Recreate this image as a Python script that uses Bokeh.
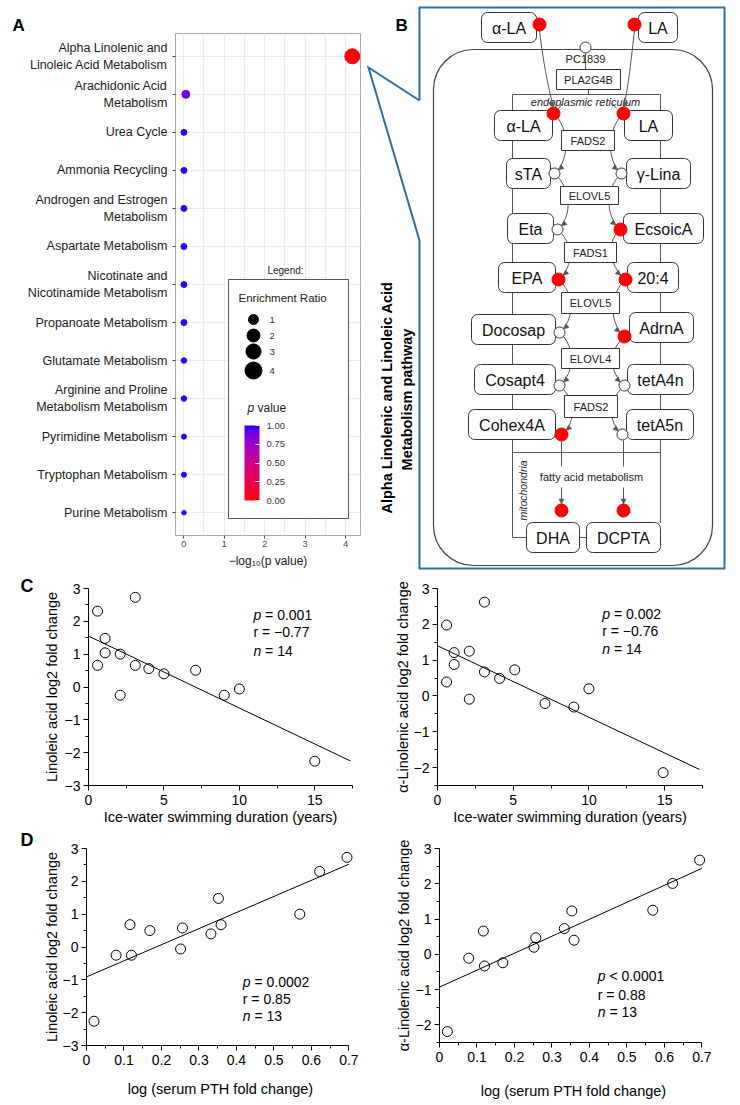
import numpy as np
from bokeh.plotting import figure
from bokeh.models import (Range1d, FactorRange, FixedTicker, Label, ColorBar, Title, Arrow,
                          NormalHead, LinearColorMapper, PrintfTickFormatter, ColumnDataSource)
from bokeh.layouts import column, row
from bokeh.core.properties import value
from bokeh.embed import file_html
from bokeh.resources import INLINE

FONT = "Liberation Sans"

# ------------------------------------------------------------------ data
pathways = [
    "Alpha Linolenic and\nLinoleic Acid Metabolism",
    "Arachidonic Acid\nMetabolism",
    "Urea Cycle",
    "Ammonia Recycling",
    "Androgen and Estrogen\nMetabolism",
    "Aspartate Metabolism",
    "Nicotinate and\nNicotinamide Metabolism",
    "Propanoate Metabolism",
    "Glutamate Metabolism",
    "Arginine and Proline\nMetabolism Metabolism",
    "Pyrimidine Metabolism",
    "Tryptophan Metabolism",
    "Purine Metabolism",
]
pathway_p = [6.8e-5, 0.88, 0.98, 0.98, 0.98, 0.98, 0.98, 0.98, 0.98, 0.98, 0.98, 0.98, 0.98]
enrichment_ratio = [2.94, 0.5, 0.18, 0.18, 0.18, 0.18, 0.18, 0.18, 0.13, 0.13, 0.09, 0.09, 0.05]
legend_ratios = [1, 2, 3, 4]
pvalue_ticks = [0, 0.25, 0.5, 0.75, 1.0]

duration_c1 = [0.6, 0.6, 1.1, 1.1, 2.1, 2.1, 3.1, 3.1, 4.0, 5.0, 7.1, 9.0, 10.0, 15.0]
la_c1 = [2.31, 0.66, 1.48, 1.04, 1.0, -0.25, 2.73, 0.66, 0.56, 0.40, 0.51, -0.25, -0.06, -2.26]
fit_c1 = (1.55, -0.219, 17.35)

duration_c2 = [0.6, 0.6, 1.1, 1.1, 2.1, 2.1, 3.1, 3.1, 4.1, 5.1, 7.1, 9.0, 10.0, 14.9]
ala_c2 = [1.98, 0.39, 1.21, 0.88, 1.25, -0.09, 2.62, 0.67, 0.49, 0.73, -0.21, -0.31, 0.20, -2.14]
fit_c2 = (1.40, -0.1995, 17.3)

pth_d1 = [0.020, 0.079, 0.116, 0.120, 0.169, 0.251, 0.256, 0.332, 0.352, 0.359, 0.569, 0.622, 0.695]
la_d1 = [-2.26, -0.25, 0.68, -0.25, 0.50, -0.06, 0.58, 0.40, 1.48, 0.68, 1.00, 2.30, 2.73]
fit_d1 = (-0.91, 4.90, 0.70)

pth_d2 = [0.021, 0.078, 0.117, 0.120, 0.169, 0.252, 0.257, 0.333, 0.353, 0.359, 0.569, 0.622, 0.694]
ala_d2 = [-2.19, -0.11, 0.66, -0.33, -0.24, 0.20, 0.47, 0.73, 1.23, 0.40, 1.25, 2.01, 2.67]
fit_d2 = (-0.93, 4.81, 0.70)

stats_c1 = ["0.001", "\u22120.77", "14"]
stats_c2 = ["0.002", "\u22120.76", "14"]
stats_d1 = ["0.0002", "0.85", "13"]
stats_d2 = ["0.0001", "0.88", "13"]

# ------------------------------------------------------------------ colour scale (Lab interpolation red -> blue)
_M = np.array([[0.4124, 0.3576, 0.1805], [0.2126, 0.7152, 0.0722], [0.0193, 0.1192, 0.9505]])
_W = _M @ np.ones(3)


def _to_lab(rgb):
    c = np.array(rgb, float) / 255
    lin = np.where(c <= 0.04045, c / 12.92, ((c + 0.055) / 1.055) ** 2.4)
    t = (_M @ lin) / _W
    f = np.where(t > (6 / 29) ** 3, np.cbrt(t), t / (3 * (6 / 29) ** 2) + 4 / 29)
    return np.array([116 * f[1] - 16, 500 * (f[0] - f[1]), 200 * (f[1] - f[2])])


def _from_lab(lab):
    L, a, b = lab
    fy = (L + 16) / 116
    fx, fz = fy + a / 500, fy - b / 200
    fi = lambda t: t ** 3 if t > 6 / 29 else 3 * (6 / 29) ** 2 * (t - 4 / 29)
    xyz = np.array([fi(fx), fi(fy), fi(fz)]) * _W
    lin = np.clip(np.linalg.solve(_M, xyz), 0, 1)
    c = np.where(lin <= 0.0031308, 12.92 * lin, 1.055 * lin ** (1 / 2.4) - 0.055)
    return "#%02x%02x%02x" % tuple(int(round(v * 255)) for v in np.clip(c, 0, 1))


_l0, _l1 = _to_lab((255, 0, 0)), _to_lab((0, 0, 255))
palette = [_from_lab(_l0 + (_l1 - _l0) * t) for t in np.linspace(0, 1, 256)]
mapper = LinearColorMapper(palette=palette, low=0, high=1)


def alabel(p, x, y, text, size, style="normal", align="left", color="#1a1a1a",
           xoff=0, yoff=0, baseline="middle"):
    p.add_layout(Label(x=x, y=y, text=text, text_font=FONT, text_font_size=size,
                       text_font_style=style, text_align=align, text_baseline=baseline,
                       text_color=color, x_offset=xoff, y_offset=yoff))


def letter_title(p, text, offset, standoff, size="18px"):
    p.add_layout(Title(text=text, align="left", offset=offset, standoff=standoff,
                       text_font=FONT, text_font_size=size, text_font_style="bold",
                       text_color="black"), "above")


# ------------------------------------------------------------------ panel A
A_FL, A_FR, A_FT, A_FB = 175, 360, 33, 535          # frame edges (page px)
A_X0, A_X1 = -0.2, 4.37
A_Y0, A_Y1 = -0.1, 13.1


def ax(px):
    return A_X0 + (px - A_FL) / (A_FR - A_FL) * (A_X1 - A_X0)


def ay(py):
    return A_Y1 - (py - A_FT) / (A_FB - A_FT) * (A_Y1 - A_Y0)


pA = figure(width=362, height=572, x_range=Range1d(A_X0, A_X1),
            y_range=FactorRange(factors=pathways[::-1], range_padding=0.1,
                                range_padding_units="absolute"),
            output_backend="svg", toolbar_location=None,
            min_border_left=175, min_border_right=2, min_border_top=33, min_border_bottom=37)
pA.outline_line_color = "#a8a8a8"
pA.xaxis.ticker = FixedTicker(ticks=[0, 1, 2, 3, 4], minor_ticks=[0.5, 1.5, 2.5, 3.5])
pA.xgrid.grid_line_color = "#ebebeb"
pA.xgrid.minor_grid_line_color = "#ebebeb"
pA.ygrid.grid_line_color = "#ebebeb"
for a in (pA.xaxis[0], pA.yaxis[0]):
    a.axis_line_color = None
    a.major_tick_out = 3
    a.major_tick_in = 0
    a.minor_tick_out = 0
    a.minor_tick_in = 0
    a.major_tick_line_color = "#444444"
    a.major_label_text_font = FONT
pA.xaxis.major_label_text_font_size = "9.5px"
pA.xaxis.major_label_text_color = "#4d4d4d"
pA.xaxis.major_label_standoff = 2
pA.xaxis.axis_label = "\u2212log\u2081\u2080(p value)"
pA.xaxis.axis_label_text_font = FONT
pA.xaxis.axis_label_text_font_size = "12px"
pA.xaxis.axis_label_text_font_style = "normal"
pA.xaxis.axis_label_text_color = "#1a1a1a"
pA.xaxis.axis_label_standoff = 4
pA.yaxis.major_label_text_font_size = "12.5px"
pA.yaxis.major_label_text_color = "#1a1a1a"
pA.yaxis.major_label_standoff = 5

srcA = ColumnDataSource(dict(
    pathway=pathways,
    neglogp=[-np.log10(v) for v in pathway_p],
    p=pathway_p,
    size=[3 + 7 * np.sqrt(r) for r in enrichment_ratio],
))
pA.scatter("neglogp", "pathway", size="size", source=srcA,
           fill_color={"field": "p", "transform": mapper},
           line_color={"field": "p", "transform": mapper})

# legend box
pA.quad(left=[ax(228)], right=[ax(348)], top=[ay(279)], bottom=[ay(518)],
        fill_color="white", line_color="#555555", line_width=1)
alabel(pA, ax(285), ay(270), "Legend:", "10px", align="center")
alabel(pA, ax(238), ay(297), "Enrichment Ratio", "11.5px")
leg_y = [319, 335, 351, 370]
pA.scatter([ax(253)] * 4, [ay(v) for v in leg_y],
           size=[3 + 7 * np.sqrt(r) for r in legend_ratios], color="black")
for r, yy in zip(legend_ratios, leg_y):
    alabel(pA, ax(269), ay(yy), str(r), "9.5px", color="#333333")
alabel(pA, ax(247), ay(407), "p", "12px", style="italic")
alabel(pA, ax(247), ay(407), "value", "12px", xoff=10)

cb = ColorBar(color_mapper=mapper, location=(69, 35), orientation="vertical",
              width=15, height=75, padding=0, title=None,
              ticker=FixedTicker(ticks=pvalue_ticks),
              formatter=PrintfTickFormatter(format="%.2f"),
              label_standoff=7, major_label_text_font=FONT,
              major_label_text_font_size="9.5px", major_label_text_color="#333333",
              major_tick_line_color="white", major_tick_in=4, major_tick_out=0,
              minor_tick_line_color=None, bar_line_color=None,
              background_fill_color=None, border_line_color=None)
pA.add_layout(cb, "center")
letter_title(pA, "A", -163, -3, size="17px")

# ------------------------------------------------------------------ panel B (pathway diagram, page pixel coordinates)
pB = figure(width=370, height=572, x_range=Range1d(362, 732), y_range=Range1d(572, 0),
            x_axis_type=None, y_axis_type=None, output_backend="svg",
            toolbar_location=None, min_border=0)
pB.outline_line_color = None
BLUE = "#2f6ea5"
GREY = "#555555"
DARK = "#333333"

pB.line([419, 419, 724, 724, 419, 419, 368, 419], [100, 7, 7, 568, 568, 240, 67, 100],
        line_color=BLUE, line_width=2, line_join="miter")
pB.text([395], [25], text=["B"], text_font=value(FONT), text_font_size="17px",
        text_font_style="bold", text_align="left", text_baseline="middle", text_color="black")
pB.text([386], [397], text=["Alpha Linolenic and Linoleic Acid"], angle=np.pi / 2,
        text_font=value(FONT), text_font_size="14.5px", text_font_style="bold",
        text_align="center", text_baseline="middle", text_color="black")
pB.text([406], [399], text=["Metabolism pathway"], angle=np.pi / 2,
        text_font=value(FONT), text_font_size="14.5px", text_font_style="bold",
        text_align="center", text_baseline="middle", text_color="black")

# cell, ER, mitochondria
pB.quad(left=[433], right=[712], top=[49], bottom=[565], fill_color=None,
        line_color="#404040", line_width=1.2, border_radius=40)
pB.quad(left=[512], right=[660], top=[94], bottom=[452], fill_color=None,
        line_color=GREY, line_width=1)
pB.line([526, 512, 512, 660, 660], [537, 537, 452, 452, 522], line_color=GREY, line_width=1)
pB.text([585], [101], text=["endoplasmic reticulum"], text_font=value(FONT),
        text_font_size="11px", text_font_style="italic", text_align="center",
        text_baseline="middle", text_color="#222222")
pB.text([522], [490], text=["mitochondria"], angle=np.pi / 2, text_font=value(FONT),
        text_font_size="10.5px", text_font_style="italic", text_align="center",
        text_baseline="middle", text_color="#222222")


def arrowhead(tip, frm, r, size=5):
    dx, dy = tip[0] - frm[0], tip[1] - frm[1]
    L = float(np.hypot(dx, dy))
    ux, uy = dx / L, dy / L
    ex, ey = tip[0] - ux * r, tip[1] - uy * r
    pB.add_layout(Arrow(end=NormalHead(size=size, fill_color=GREY, line_color=GREY,
                                       line_width=0.5),
                        x_start=ex - ux * 3, y_start=ey - uy * 3, x_end=ex, y_end=ey,
                        line_alpha=0))


# connectors
pB.line([585, 585], [53, 69], line_color=GREY)
pB.line([588, 588], [89, 94], line_color=GREY)
pB.bezier(x0=[539, 634], y0=[30, 30], x1=[553, 623], y1=[107, 107],
          cx0=[543, 630], cy0=[65, 65], cx1=[549, 627], cy1=[92, 92], line_color=GREY)
pB.segment(x0=[562, 612], y0=[103, 103], x1=[558, 616], y1=[108, 108], line_color=GREY)

left_dots = [(553, 113, 1), (554, 173, 0), (557, 229, 0), (558, 279, 1),
             (559, 332, 0), (559, 385, 0), (561, 434, 1)]
right_dots = [(623, 113, 1), (621, 173, 0), (620, 229, 1), (625, 279, 1),
              (624, 336, 1), (624, 385, 0), (622, 434, 0)]
for dots, s in ((left_dots, 1), (right_dots, -1)):
    for (x0, y0, _), (x1, y1, f1) in zip(dots[:-1], dots[1:]):
        pB.bezier(x0=[x0], y0=[y0], x1=[x1], y1=[y1], cx0=[x0 + 16 * s], cy0=[y0 + 14],
                  cx1=[x1 + 16 * s], cy1=[y1 - 14], line_color=GREY, line_width=1)
        arrowhead((x1, y1), (x1 + 16 * s, y1 - 14), 6.5 if f1 else 5.5)
arrowhead((553, 113), (549, 92), 6.5)
arrowhead((623, 113), (627, 92), 6.5)

pB.segment(x0=[561, 561, 623, 623], y0=[440, 487, 440, 487],
           x1=[561, 561, 623, 623], y1=[466, 503, 466, 503], line_color=GREY)
arrowhead((561, 510), (561, 490), 6.5)
arrowhead((623, 510), (623, 490), 6.5)
pB.text([591], [476], text=["fatty acid metabolism"], text_font=value(FONT),
        text_font_size="11px", text_align="center", text_baseline="middle",
        text_color="#222222")
pB.line([579, 586], [537, 537], line_color=GREY)

enzymes = [("PLA2G4B", 556, 620, 69, 89), ("FADS2", 561, 614, 130, 150),
           ("ELOVL5", 560, 618, 186, 204), ("FADS1", 564, 616, 242, 262),
           ("ELOVL5", 561, 619, 292, 313), ("ELOVL4", 561, 619, 348, 368),
           ("FADS2", 564, 617, 395, 417)]
pB.quad(left=[e[1] for e in enzymes], right=[e[2] for e in enzymes],
        top=[e[3] for e in enzymes], bottom=[e[4] for e in enzymes],
        fill_color="white", line_color=DARK, line_width=1)
pB.text([(e[1] + e[2]) / 2 for e in enzymes], [(e[3] + e[4]) / 2 for e in enzymes],
        text=[e[0] for e in enzymes], text_font=value(FONT), text_font_size="11px",
        text_align="center", text_baseline="middle", text_color="#222222")
pB.text([585], [58], text=["PC1839"], text_font=value(FONT), text_font_size="11px",
        text_align="center", text_baseline="middle", text_color="#222222")

nodes = [("\u03b1-LA", 481, 536, 12, 42), ("LA", 638, 677, 12, 42),
         ("\u03b1-LA", 494, 552, 110, 140), ("LA", 624, 672, 110, 140),
         ("sTA", 506, 550, 158, 188), ("\u03b3-Lina", 626, 690, 158, 188),
         ("Eta", 507, 553, 213, 243), ("EcsoicA", 623, 703, 213, 243),
         ("EPA", 498, 555, 262, 292), ("20:4", 627, 678, 262, 292),
         ("Docosap", 471, 555, 314, 344), ("AdrnA", 629, 693, 312, 342),
         ("Cosapt4", 474, 555, 364, 394), ("tetA4n", 627, 693, 364, 394),
         ("Cohex4A", 468, 555, 409, 439), ("tetA5n", 626, 693, 409, 439),
         ("DHA", 526, 579, 522, 552), ("DCPTA", 586, 660, 522, 552)]
pB.quad(left=[n[1] for n in nodes], right=[n[2] for n in nodes],
        top=[n[3] for n in nodes], bottom=[n[4] for n in nodes],
        fill_color="white", line_color=DARK, line_width=1, border_radius=6)
pB.text([(n[1] + n[2]) / 2 for n in nodes], [(n[3] + n[4]) / 2 + 1 for n in nodes],
        text=[n[0] for n in nodes], text_font=value(FONT), text_font_size="16px",
        text_align="center", text_baseline="middle", text_color="#111111")

dots = left_dots + right_dots + [(539, 24, 1), (634, 24, 1), (561, 510, 1), (623, 510, 1),
                                 (585, 47, 0)]
red = [d for d in dots if d[2]]
opn = [d for d in dots if not d[2]]
pB.scatter([d[0] for d in opn], [d[1] for d in opn], size=11, fill_color="white",
           line_color=DARK, line_width=1)
pB.scatter([d[0] for d in red], [d[1] for d in red], size=13, fill_color="#ff0000",
           line_color="#ff0000")


# ------------------------------------------------------------------ panels C / D
def scatter_panel(xs, ys, fit, xr, xbounds, yr, x_ticks, x_minor, y_ticks, y_minor,
                  x_label, y_label, width, height, mb, xl_standoff, yl_standoff,
                  stats, stat_xy, p_sym="="):
    p = figure(width=width, height=height, x_range=Range1d(*xr), y_range=Range1d(*yr),
               output_backend="svg", toolbar_location=None,
               min_border_left=mb[0], min_border_right=mb[1],
               min_border_top=mb[2], min_border_bottom=mb[3])
    p.outline_line_color = None
    p.grid.visible = False
    p.xaxis.ticker = FixedTicker(ticks=x_ticks, minor_ticks=x_minor)
    p.yaxis.ticker = FixedTicker(ticks=y_ticks, minor_ticks=y_minor)
    p.xaxis.bounds = xbounds
    p.xaxis.major_label_overrides = {t: ("0" if t == 0 else ("%g" % t)) for t in x_ticks}
    p.yaxis.major_label_overrides = {t: ("%g" % t).replace("-", "\u2212") for t in y_ticks}
    for a in (p.xaxis[0], p.yaxis[0]):
        a.axis_line_color = "black"
        a.axis_line_width = 1
        a.major_tick_line_color = "black"
        a.minor_tick_line_color = "black"
        a.major_tick_out = 5
        a.major_tick_in = 0
        a.minor_tick_out = 3
        a.minor_tick_in = 0
        a.major_label_text_font = FONT
        a.major_label_text_font_size = "14px"
        a.major_label_text_color = "black"
        a.axis_label_text_font = FONT
        a.axis_label_text_font_size = "14.5px"
        a.axis_label_text_font_style = "normal"
        a.axis_label_text_color = "black"
    p.xaxis.major_label_standoff = 4
    p.yaxis.major_label_standoff = 3
    p.xaxis.axis_label = x_label
    p.xaxis.axis_label_standoff = xl_standoff
    p.add_layout(Title(text=y_label, align="center", standoff=yl_standoff,
                       text_font=FONT, text_font_size="14.5px", text_font_style="normal",
                       text_color="black"), "left")

    b0, b1, xend = fit
    lx = [0, xend]
    p.line(lx, [b0 + b1 * v for v in lx], line_color="black", line_width=1)
    p.scatter(xs, ys, size=10, fill_color=None, line_color="black", line_width=1)

    sx, sy = stat_xy
    alabel(p, sx, sy[0], "p", "14px", style="italic", color="black")
    alabel(p, sx, sy[0], "%s %s" % (p_sym, stats[0]), "14px", xoff=11.7, color="black")
    alabel(p, sx, sy[1], "r = %s" % stats[1], "14px", color="black")
    alabel(p, sx, sy[2], "n", "14px", style="italic", color="black")
    alabel(p, sx, sy[2], "= %s" % stats[2], "14px", xoff=11.7, color="black")
    return p


yl_la = "Linoleic acid log2 fold change"
yl_ala = "\u03b1-Linolenic acid log2 fold change"
xl_dur = "Ice-water swimming duration (years)"
xl_pth = "log (serum PTH fold change)"

pC1 = scatter_panel(duration_c1, la_c1, fit_c1, (0, 17.5), (0, 17.5), (-3, 3),
                    [0, 5, 10, 15], [2.5, 7.5, 12.5, 17.5],
                    [-3, -2, -1, 0, 1, 2, 3], [-2.5, -1.5, -0.5, 0.5, 1.5, 2.5],
                    xl_dur, yl_la, 370, 256, (88, 18, 16, 43), 1, 3,
                    stats_c1, (10.93, (2.18, 1.66, 1.11)))
letter_title(pC1, "C", -68, -14)
pC2 = scatter_panel(duration_c2, ala_c2, fit_c2, (0, 17.5), (0, 17.5), (-2.5, 3),
                    [0, 5, 10, 15], [2.5, 7.5, 12.5, 17.5],
                    [-2, -1, 0, 1, 2, 3], [-2.5, -1.5, -0.5, 0.5, 1.5, 2.5],
                    xl_dur, yl_ala, 362, 256, (67, 30, 16, 43), 1, 0,
                    stats_c2, (10.88, (2.30, 1.80, 1.30)))
pD1 = scatter_panel(pth_d1, la_d1, fit_d1, (0, 0.715), (0, 0.7), (-3, 3),
                    [0, 0.1, 0.2, 0.3, 0.4, 0.5, 0.6, 0.7],
                    [0.05, 0.15, 0.25, 0.35, 0.45, 0.55, 0.65],
                    [-3, -2, -1, 0, 1, 2, 3], [-2.5, -1.5, -0.5, 0.5, 1.5, 2.5],
                    xl_pth, yl_la, 370, 273, (86, 16, 19, 56), 13, 0,
                    stats_d1, (0.417, (-1.06, -1.58, -2.09)))
letter_title(pD1, "D", -66, -2)
pD2 = scatter_panel(pth_d2, ala_d2, fit_d2, (0, 0.715), (0, 0.7), (-2.5, 3),
                    [0, 0.1, 0.2, 0.3, 0.4, 0.5, 0.6, 0.7],
                    [0.05, 0.15, 0.25, 0.35, 0.45, 0.55, 0.65],
                    [-2, -1, 0, 1, 2, 3], [-2.5, -1.5, -0.5, 0.5, 1.5, 2.5],
                    xl_pth, yl_ala, 362, 273, (69, 25, 20, 57), 18, 1,
                    stats_d2, (0.422, (-0.62, -1.15, -1.63)), p_sym="<")

# each figure wrapped in its own column so that rows do not align the plot frames
layout = column(row(column(pA), column(pB)),
                row(column(pC1), column(pC2)),
                row(column(pD1), column(pD2)))
open("out.html", "w").write(file_html(layout, INLINE))
